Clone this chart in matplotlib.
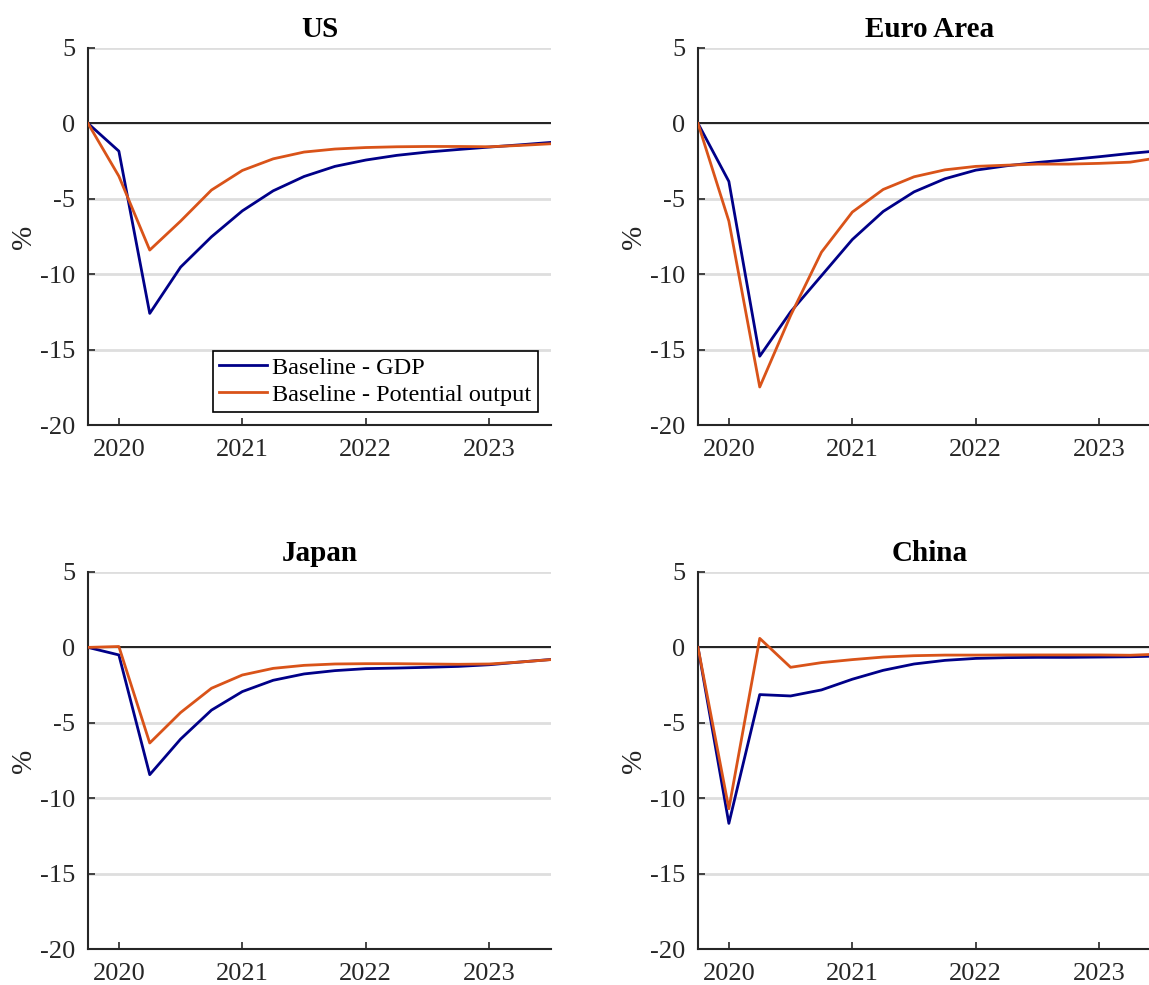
import numpy as np
import matplotlib
matplotlib.use("Agg")
import matplotlib.pyplot as plt

plt.rcParams["font.family"] = ["Liberation Serif", "DejaVu Serif"]
plt.rcParams["axes.unicode_minus"] = False

# Quarterly dates, 2019Q4 .. 2023Q2 (decimal years)
quarters = [2019.75, 2020.0, 2020.25, 2020.5, 2020.75, 2021.0, 2021.25, 2021.5,
            2021.75, 2022.0, 2022.25, 2022.5, 2022.75, 2023.0, 2023.25, 2023.5]

us_gdp = [0.0, -1.84, -12.6, -9.53, -7.52, -5.8, -4.47, -3.52,
          -2.85, -2.43, -2.12, -1.9, -1.73, -1.57, -1.42, -1.26]
us_pot = [0.0, -3.5, -8.4, -6.48, -4.42, -3.12, -2.35, -1.9,
          -1.7, -1.6, -1.55, -1.53, -1.53, -1.55, -1.46, -1.35]

ea_gdp = [0.0, -3.85, -15.44, -12.5, -10.1, -7.7, -5.84, -4.54,
          -3.67, -3.1, -2.81, -2.59, -2.41, -2.21, -1.99, -1.8]
ea_pot = [0.0, -6.48, -17.48, -12.74, -8.54, -5.88, -4.38, -3.54,
          -3.08, -2.85, -2.77, -2.7, -2.7, -2.65, -2.57, -2.25]

jp_gdp = [0.0, -0.5, -8.44, -6.08, -4.16, -2.93, -2.18, -1.76,
          -1.54, -1.41, -1.37, -1.32, -1.26, -1.15, -0.97, -0.8]
jp_pot = [0.0, 0.06, -6.34, -4.32, -2.71, -1.83, -1.39, -1.19,
          -1.1, -1.08, -1.08, -1.1, -1.12, -1.1, -0.97, -0.81]

cn_gdp = [0.0, -11.67, -3.13, -3.22, -2.82, -2.11, -1.52, -1.1,
          -0.86, -0.73, -0.68, -0.66, -0.66, -0.64, -0.62, -0.57]
cn_pot = [0.0, -10.7, 0.6, -1.32, -1.01, -0.81, -0.64, -0.55,
          -0.51, -0.51, -0.5, -0.5, -0.5, -0.5, -0.52, -0.44]

titles = ["US", "Euro Area", "Japan", "China"]
gdp_series = [us_gdp, ea_gdp, jp_gdp, cn_gdp]
pot_series = [us_pot, ea_pot, jp_pot, cn_pot]

year_ticks = [2020, 2021, 2022, 2023]
y_ticks = [5, 0, -5, -10, -15, -20]

gdp_color = "#000088"
pot_color = "#D95319"
ink = "#262626"

W, H = 1149, 985
fig = plt.figure(figsize=(W / 100, H / 100), dpi=100)

ax_w = 463 / W
ax_h = 377 / H
lefts = [88 / W, 698 / W]
bottoms = [1 - 425 / H, 1 - 949 / H]
positions = [(lefts[0], bottoms[0]), (lefts[1], bottoms[0]),
             (lefts[0], bottoms[1]), (lefts[1], bottoms[1])]

for i, (title, gdp, pot) in enumerate(zip(titles, gdp_series, pot_series)):
    l, b = positions[i]
    ax = fig.add_axes([l, b, ax_w, ax_h])
    for yt in y_ticks:
        ax.axhline(yt, color="#dedede", lw=2.0, zorder=0)
    ax.axhline(0, color="black", lw=1.2, zorder=1)
    ax.plot(quarters, gdp, color=gdp_color, lw=2.0, label="Baseline - GDP", zorder=3)
    ax.plot(quarters, pot, color=pot_color, lw=2.0, label="Baseline - Potential output", zorder=3)
    ax.set_xlim(2019.75, 2023.5)
    ax.set_ylim(-20, 5)
    ax.set_xticks(year_ticks)
    ax.set_yticks(y_ticks)
    ax.tick_params(direction="in", length=5, width=1.2, labelsize=19,
                   colors=ink, pad=9)
    ax.tick_params(axis="x", pad=10)
    for side in ["top", "right"]:
        ax.spines[side].set_visible(False)
    for side in ["left", "bottom"]:
        ax.spines[side].set_color(ink)
        ax.spines[side].set_linewidth(1.5)
    ax.set_title(title, fontsize=21, fontweight="bold", pad=8)
    ax.set_ylabel("%", fontsize=21, color=ink, labelpad=2)
    if i == 0:
        leg = ax.legend(loc="lower right", fontsize=17.5, frameon=True,
                        fancybox=False, edgecolor="black", framealpha=1,
                        handlelength=2.0, borderpad=0.25, labelspacing=0.2,
                        handletextpad=0.2, borderaxespad=0.55)
        leg.get_frame().set_linewidth(1.2)

fig.savefig("out.png", dpi=100)
